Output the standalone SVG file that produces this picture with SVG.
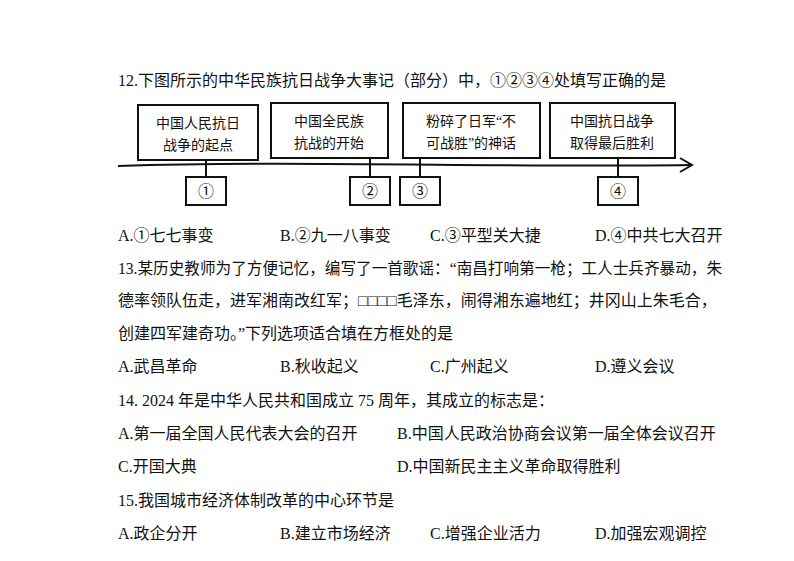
<svg xmlns="http://www.w3.org/2000/svg" width="794" height="561" viewBox="0 0 794 561">
<style>
text{font-family:"Liberation Serif","Noto Sans CJK SC",serif;font-size:16px;fill:#111}
.b{fill:#fff;stroke:#111;stroke-width:2}
.s{font-size:14px}
</style>
<rect width="794" height="561" fill="#fff"/>
<text x="118" y="86">12.下图所示的中华民族抗日战争大事记（部分）中，①②③④处填写正确的是</text>
<g id="connectors" stroke="#111" stroke-width="2" fill="none">
<path d="M118 166 C300 160 500 168 690 165"/>
<path d="M680 158 L692 165 L680 172"/>
<path d="M206 160 V178 M370 158 V178 M420 158 V178 M618 158 V178"/>
</g>
<g id="n1"><rect class="b" x="138" y="105" width="120" height="55"/><text class="s" x="198" y="128" text-anchor="middle">中国人民抗日</text><text class="s" x="198" y="150" text-anchor="middle">战争的起点</text></g>
<g id="n2"><rect class="b" x="271" y="103" width="117" height="55"/><text class="s" x="329" y="126" text-anchor="middle">中国全民族</text><text class="s" x="329" y="148" text-anchor="middle">抗战的开始</text></g>
<g id="n3"><rect class="b" x="403" y="103" width="137" height="55"/><text class="s" x="471" y="126" text-anchor="middle">粉碎了日军“不</text><text class="s" x="471" y="148" text-anchor="middle">可战胜”的神话</text></g>
<g id="n4"><rect class="b" x="550" y="103" width="125" height="55"/><text class="s" x="612" y="126" text-anchor="middle">中国抗日战争</text><text class="s" x="612" y="148" text-anchor="middle">取得最后胜利</text></g>
<g id="m1"><rect class="b" x="186" y="177" width="40" height="28"/><text x="206" y="197" text-anchor="middle">①</text></g>
<g id="m2"><rect class="b" x="350" y="177" width="40" height="28"/><text x="370" y="197" text-anchor="middle">②</text></g>
<g id="m3"><rect class="b" x="400" y="177" width="40" height="28"/><text x="420" y="197" text-anchor="middle">③</text></g>
<g id="m4"><rect class="b" x="598" y="177" width="40" height="28"/><text x="618" y="197" text-anchor="middle">④</text></g>
<text x="118" y="241">A.①七七事变</text><text x="280" y="241">B.②九一八事变</text><text x="430" y="241">C.③平型关大捷</text><text x="595" y="241">D.④中共七大召开</text>
<text x="118" y="274" textLength="604" lengthAdjust="spacingAndGlyphs">13.某历史教师为了方便记忆，编写了一首歌谣：“南昌打响第一枪；工人士兵齐暴动，朱</text>
<text x="118" y="306">德率领队伍走，进军湘南改红军；□□□□毛泽东，闹得湘东遍地红；井冈山上朱毛合，</text>
<text x="118" y="339">创建四军建奇功。”下列选项适合填在方框处的是</text>
<text x="118" y="372">A.武昌革命</text><text x="280" y="372">B.秋收起义</text><text x="430" y="372">C.广州起义</text><text x="595" y="372">D.遵义会议</text>
<text x="118" y="406">14. 2024 年是中华人民共和国成立 75 周年，其成立的标志是：</text>
<text x="118" y="439">A.第一届全国人民代表大会的召开</text><text x="397" y="439">B.中国人民政治协商会议第一届全体会议召开</text>
<text x="118" y="472">C.开国大典</text><text x="397" y="472">D.中国新民主主义革命取得胜利</text>
<text x="118" y="506">15.我国城市经济体制改革的中心环节是</text>
<text x="118" y="539">A.政企分开</text><text x="280" y="539">B.建立市场经济</text><text x="430" y="539">C.增强企业活力</text><text x="595" y="539">D.加强宏观调控</text>
</svg>
